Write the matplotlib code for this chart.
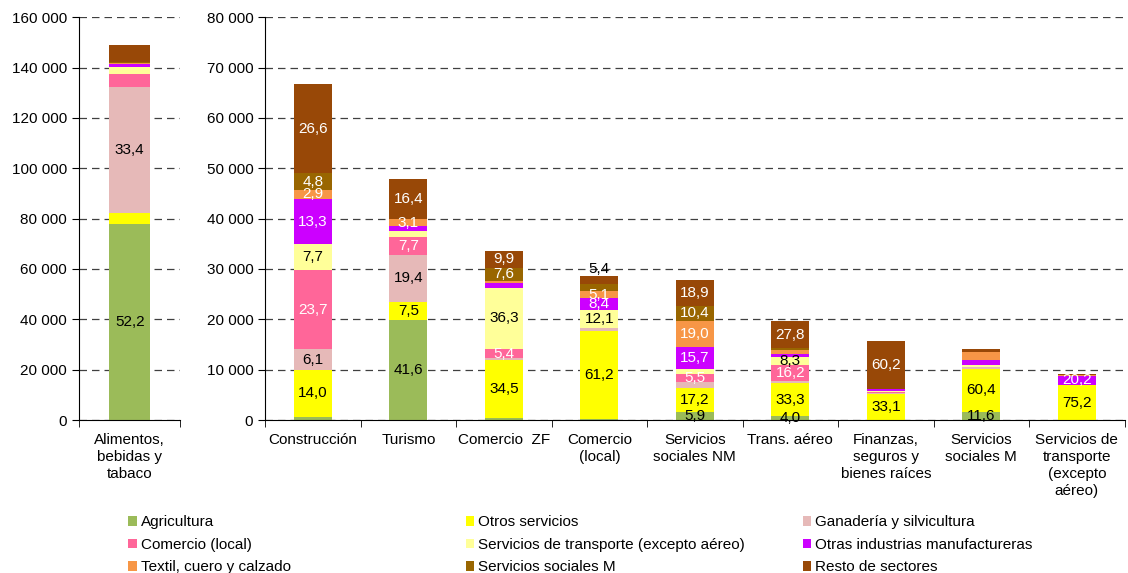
import matplotlib
matplotlib.use('Agg')
import matplotlib.pyplot as plt
from matplotlib.ticker import FuncFormatter, FixedLocator
import numpy as np

plt.rcParams['font.family'] = ['Liberation Sans', 'DejaVu Sans']

# categorias (la primera va en el panel izquierdo)
categorias = ['Alimentos,\nbebidas y\ntabaco', 'Construcción', 'Turismo', 'Comercio  ZF',
              'Comercio\n(local)', 'Servicios\nsociales NM', 'Trans. aéreo',
              'Finanzas,\nseguros y\nbienes raíces', 'Servicios\nsociales M',
              'Servicios de\ntransporte\n(excepto\naéreo)']
totales = [149300, 66700, 47800, 33600, 28600, 27900, 19700, 15600, 14100, 9100]

sectores = ['Agricultura', 'Otros servicios', 'Ganadería y silvicultura',
            'Comercio (local)', 'Servicios de transporte (excepto aéreo)',
            'Otras industrias manufactureras', 'Textil, cuero y calzado',
            'Servicios sociales M', 'Resto de sectores']
colores = ['#9BBB59', '#FFFF00', '#E6B9B8', '#FF6699', '#FFFF99',
           '#CC00FF', '#F79646', '#996600', '#984807']
color_texto = ['black', 'black', 'black', 'white', 'black',
               'white', 'white', 'white', 'white']

# participacion (%) de cada sector en cada categoria
agricultura = [52.2, 0.9, 41.6, 1.0, 0.8, 5.9, 4.0, 0.0, 11.6, 0.4]
otros_serv = [3.0, 14.0, 7.5, 34.5, 61.2, 17.2, 33.3, 33.1, 60.4, 75.2]
ganaderia = [33.4, 6.1, 19.4, 1.1, 2.0, 3.9, 2.0, 1.5, 2.2, 0.5]
comercio = [3.4, 23.7, 7.7, 5.4, 0.0, 5.5, 16.2, 1.0, 0.8, 0.5]
transporte = [1.8, 7.7, 2.3, 36.3, 12.1, 3.5, 8.3, 0.7, 2.5, 0.0]
otras_ind = [0.8, 13.3, 1.9, 2.6, 8.4, 15.7, 2.5, 3.0, 7.5, 20.2]
textil = [0.5, 2.9, 3.1, 1.5, 5.1, 19.0, 3.9, 0.5, 10.5, 1.6]
serv_soc_m = [0.2, 4.8, 0.1, 7.6, 5.0, 10.4, 2.0, 0.0, 0.0, 0.3]
resto = [4.6, 26.6, 16.4, 9.9, 5.4, 18.9, 27.8, 60.2, 4.5, 1.3]
shares = np.array([agricultura, otros_serv, ganaderia, comercio, transporte,
                   otras_ind, textil, serv_soc_m, resto])

# sectores con etiqueta en cada categoria
etiquetas = [{0, 2}, {1, 2, 3, 4, 5, 6, 7, 8}, {0, 1, 2, 3, 6, 8}, {1, 3, 4, 7, 8},
             {1, 4, 5, 6, 8}, {0, 1, 3, 5, 6, 7, 8}, {0, 1, 3, 4, 8}, {1, 8},
             {0, 1}, {1, 5}]

valores = shares * np.array(totales) / 100.0

FS = 11

fig = plt.figure(figsize=(11.28, 5.73), dpi=100)
ax_l = fig.add_axes([0.070, 0.267, 0.090, 0.703])
ax_r = fig.add_axes([0.235, 0.267, 0.762, 0.703])

fmt = FuncFormatter(lambda v, p: f'{int(v):,}'.replace(',', ' '))


def dibujar(ax, idx, ymax, paso):
    x = np.arange(len(idx))
    base = np.zeros(len(idx))
    for s in range(len(sectores)):
        v = valores[s, idx]
        ax.bar(x, v, 0.4, bottom=base, color=colores[s], label=sectores[s],
               edgecolor='none', zorder=2)
        for j, c in enumerate(idx):
            if s in etiquetas[c]:
                y = base[j] + v[j] / 2
                col = color_texto[s]
                if c == 4 and s == 8:
                    # la etiqueta de "Resto" en Comercio (local) sale por encima
                    y = base[j] + v[j] + 1300
                    col = 'black'
                ax.text(x[j], y, f'{shares[s, c]:.1f}'.replace('.', ','),
                        ha='center', va='center', fontsize=FS, color=col, zorder=3)
        base += v
    ax.set_xlim(-0.5, len(idx) - 0.5)
    ax.set_ylim(0, ymax)
    ax.set_yticks(np.arange(0, ymax + 1, paso))
    ax.yaxis.set_major_formatter(fmt)
    ax.set_xticks(x)
    ax.set_xticklabels([categorias[c] for c in idx], fontsize=FS, va='top',
                       linespacing=1.3)
    ax.tick_params(axis='x', length=0, pad=9)
    ax.xaxis.set_minor_locator(FixedLocator(np.arange(-0.5, len(idx), 1)))
    ax.tick_params(axis='x', which='minor', length=5, direction='out')
    ax.tick_params(axis='y', labelsize=FS, length=5, direction='out')
    ax.yaxis.grid(True, linestyle=(0, (6, 4)), color='#404040', linewidth=0.9, zorder=0)
    ax.set_axisbelow(True)
    for sp in ['top', 'right']:
        ax.spines[sp].set_visible(False)


dibujar(ax_l, [0], 160000, 20000)
dibujar(ax_r, list(range(1, 10)), 80000, 10000)

handles, labels = ax_r.get_legend_handles_labels()
# leyenda en tres columnas, ordenada por filas
for k, xcol in enumerate([0.107, 0.406, 0.705]):
    hs = [handles[i] for i in range(k, 9, 3)]
    ls = [labels[i] for i in range(k, 9, 3)]
    fig.legend(hs, ls, loc='upper left', bbox_to_anchor=(xcol, 0.114),
               frameon=False, fontsize=FS, handlelength=0.55, handleheight=0.55,
               handletextpad=0.25, labelspacing=0.56, borderpad=0)

fig.savefig('out.png', dpi=100)
